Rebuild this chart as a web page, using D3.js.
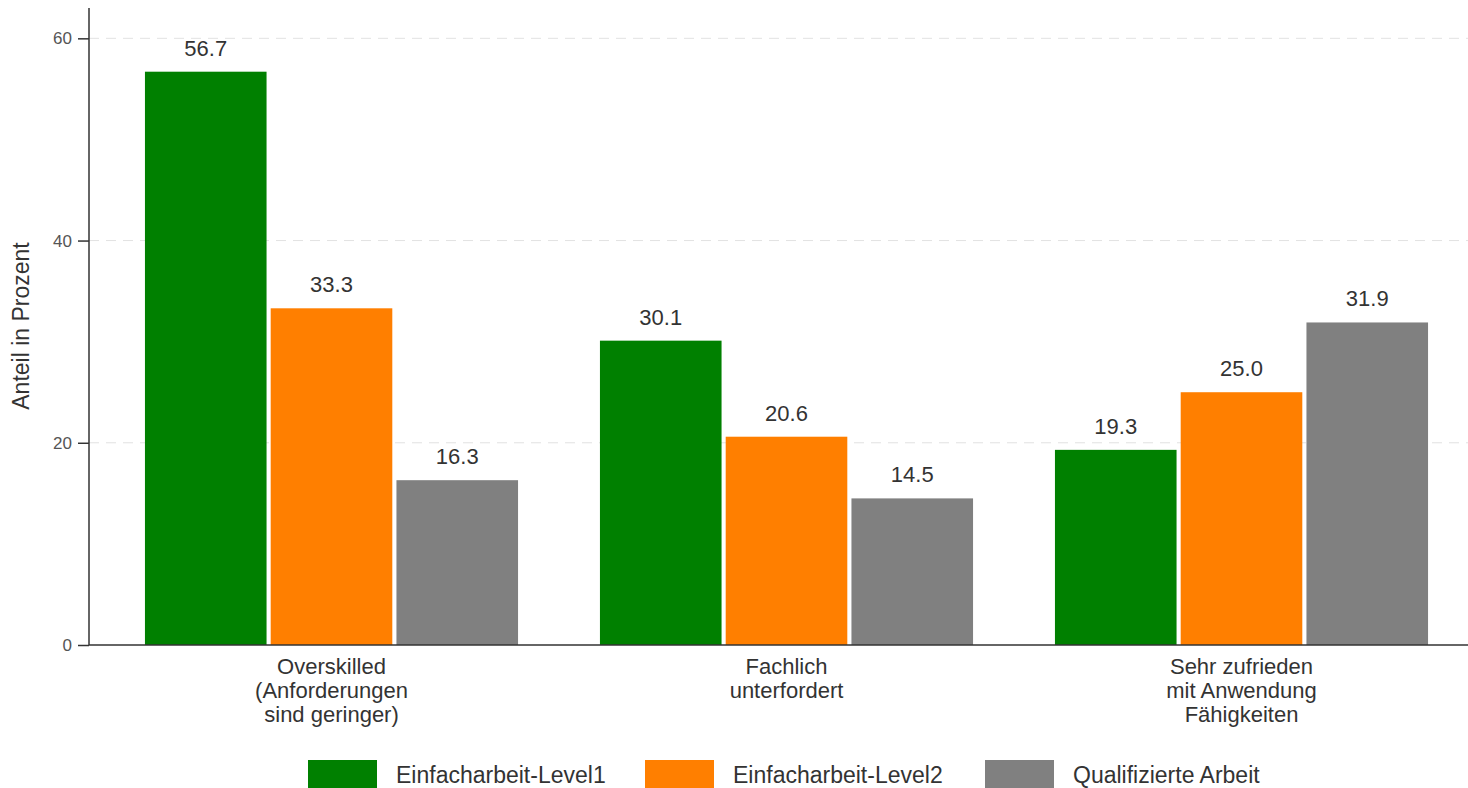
<!DOCTYPE html>
<html><head><meta charset="utf-8">
<script src="https://cdn.jsdelivr.net/npm/d3@7"></script>
<style>body{margin:0;background:#fff;} svg{display:block;font-family:"Liberation Sans",Arial,sans-serif;}</style>
</head><body>
<svg id="c" width="1468" height="788"></svg>
<script>
const categories = [
  ["Overskilled", "(Anforderungen", "sind geringer)"],
  ["Fachlich", "unterfordert"],
  ["Sehr zufrieden", "mit Anwendung", "Fähigkeiten"]
];
const seriesNames = ["Einfacharbeit-Level1", "Einfacharbeit-Level2", "Qualifizierte Arbeit"];
const seriesColors = ["#008000", "#ff7f00", "#808080"];
const level1 = [56.7, 30.1, 19.3];
const level2 = [33.3, 20.6, 25.0];
const qualifiziert = [16.3, 14.5, 31.9];
const yTicks = [0, 20, 40, 60];
const yTitle = "Anteil in Prozent";

const seriesValues = [level1, level2, qualifiziert];
const svg = d3.select("#c");
const y0 = 645, yTop = 8, xLeft = 89;

const y = d3.scaleLinear().domain([0, 63]).range([y0, yTop]);
const catIdx = categories.map((d, i) => i);
const x0 = d3.scaleBand().domain(catIdx).range([104, 1469]).paddingInner(0.18).paddingOuter(0.09);
const x1 = d3.scaleBand().domain(seriesNames).range([0, x0.bandwidth()]).paddingInner(0.033);

// gridlines
svg.append("g").selectAll("line").data(yTicks.filter(t => t > 0)).join("line")
  .attr("x1", xLeft).attr("x2", 1468)
  .attr("y1", d => y(d)).attr("y2", d => y(d))
  .attr("stroke", "#e2e2e2").attr("stroke-width", 1).attr("stroke-dasharray", "10,7");

// bars
const groups = svg.append("g").selectAll("g").data(catIdx).join("g")
  .attr("transform", i => `translate(${x0(i)},0)`);
groups.selectAll("rect").data(i => seriesNames.map((s, k) => ({s, k, v: seriesValues[k][i]}))).join("rect")
  .attr("x", d => x1(d.s)).attr("width", x1.bandwidth())
  .attr("y", d => y(d.v)).attr("height", d => y0 - y(d.v))
  .attr("fill", d => seriesColors[d.k]);
groups.selectAll("text").data(i => seriesNames.map((s, k) => ({s, k, v: seriesValues[k][i]}))).join("text")
  .attr("x", d => x1(d.s) + x1.bandwidth() / 2).attr("y", d => y(d.v) - 16)
  .attr("text-anchor", "middle").attr("font-size", 22).attr("fill", "#333")
  .text(d => d.v.toFixed(1));

// y axis
const yAxis = svg.append("g").attr("transform", `translate(${xLeft},0)`)
  .call(d3.axisLeft(y).tickValues(yTicks).tickSize(11).tickPadding(6));
yAxis.select(".domain").attr("stroke", "#333").attr("stroke-width", 1.5).attr("d", `M0,${yTop}V${y0}`);
yAxis.selectAll(".tick line").attr("stroke", "#333").attr("stroke-width", 1.5);
yAxis.selectAll(".tick text").attr("font-size", 17).attr("fill", "#555").attr("font-family", "Liberation Sans, Arial, sans-serif");

// x axis line
svg.append("line").attr("x1", xLeft).attr("x2", 1468).attr("y1", y0).attr("y2", y0)
  .attr("stroke", "#333").attr("stroke-width", 1.5);

// x category labels
const xl = svg.append("g").selectAll("text").data(catIdx).join("text")
  .attr("text-anchor", "middle").attr("font-size", 22).attr("fill", "#333")
  .attr("transform", i => `translate(${x0(i) + x0.bandwidth() / 2},674)`);
xl.selectAll("tspan").data(i => categories[i]).join("tspan")
  .attr("x", 0).attr("dy", (d, j) => j === 0 ? 0 : 24).text(d => d);

// y title
svg.append("text").attr("transform", "translate(29,326) rotate(-90)")
  .attr("text-anchor", "middle").attr("font-size", 23).attr("fill", "#333").text(yTitle);

// legend
const legX = [308, 645, 985];
const leg = svg.append("g").selectAll("g").data(seriesNames).join("g")
  .attr("transform", (d, k) => `translate(${legX[k]},760)`);
leg.append("rect").attr("width", 69).attr("height", 30).attr("fill", (d, k) => seriesColors[k]);
leg.append("text").attr("x", 88).attr("y", 23).attr("font-size", 23).attr("fill", "#333").text(d => d);
</script>
</body></html>
